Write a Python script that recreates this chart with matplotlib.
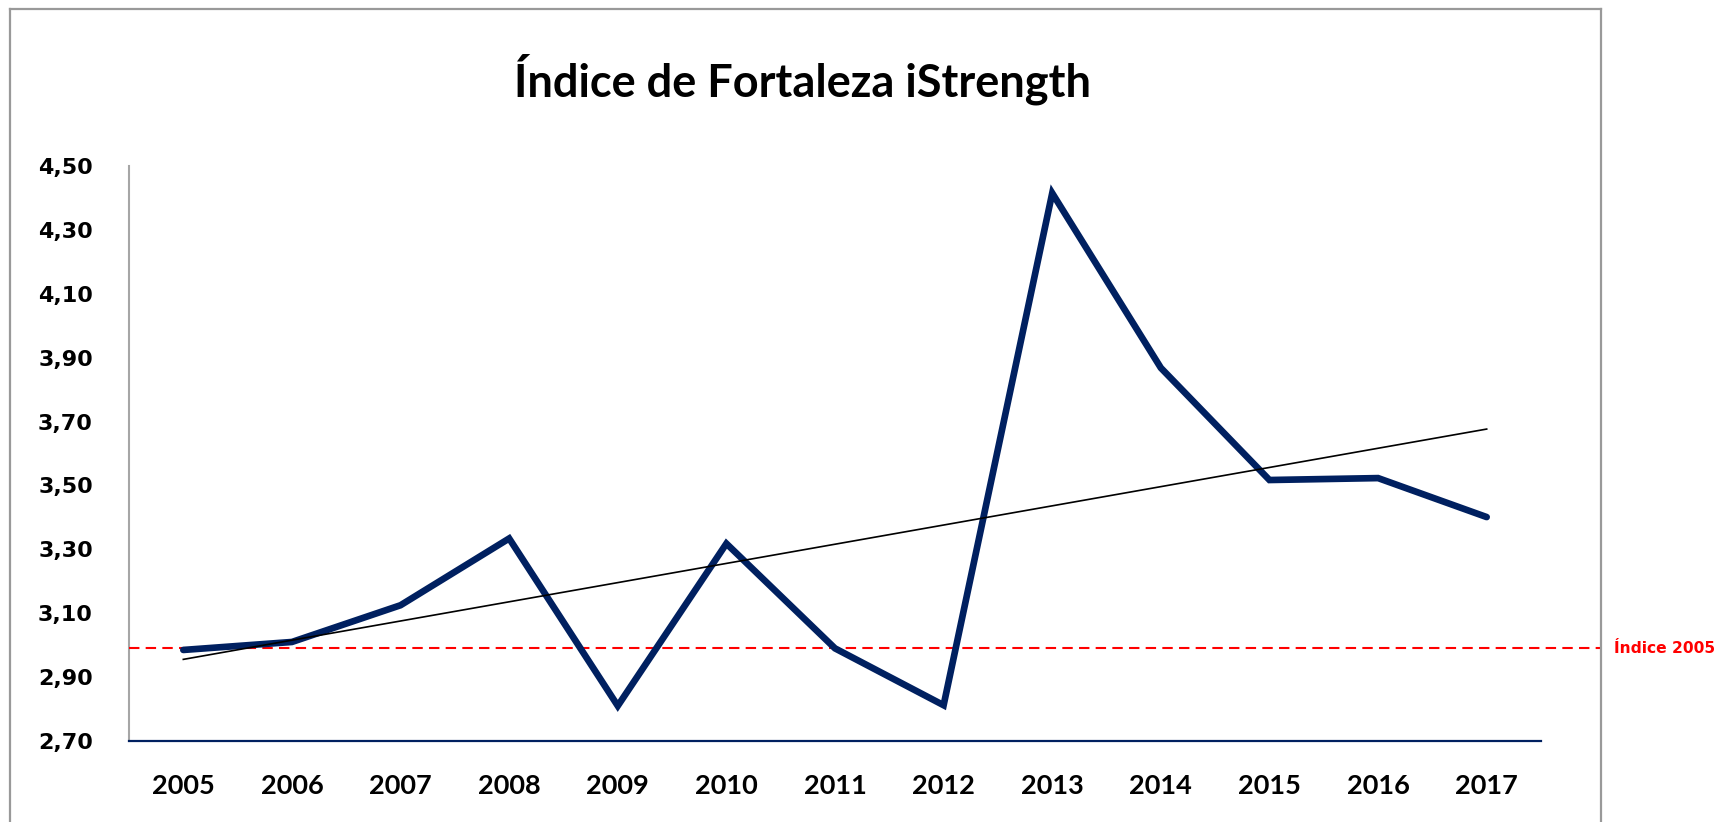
import numpy as np
import matplotlib
matplotlib.use("Agg")
import matplotlib.pyplot as plt
from matplotlib.lines import Line2D
from matplotlib.transforms import blended_transform_factory

years = ["2005", "2006", "2007", "2008", "2009", "2010", "2011",
         "2012", "2013", "2014", "2015", "2016", "2017"]
values = [2.985, 3.01, 3.125, 3.334, 2.81, 3.318, 2.99,
          2.812, 4.415, 3.868, 3.517, 3.523, 3.401]
ref_value = 2.99
ref_label = "Índice 2005"
title = "Índice de Fortaleza iStrength"
yticks = [2.70, 2.90, 3.10, 3.30, 3.50, 3.70, 3.90, 4.10, 4.30, 4.50]

W, H = 1716, 822
fig = plt.figure(figsize=(W / 100, H / 100), dpi=100)
fig.patch.set_facecolor("white")
ax = fig.add_axes([129 / W, 1 - 741 / H, (1541 - 129) / W, (741 - 166) / H])

x = np.arange(len(years))
ax.plot(x, values, color="#002060", lw=4.8, solid_joinstyle="miter",
        solid_capstyle="round", zorder=4)

# linear trend
coef = np.polyfit(x, values, 1)
ax.plot(x[[0, -1]], np.polyval(coef, x[[0, -1]]), color="black", lw=1.2, zorder=5)

# reference line extending to the chart frame
tr = blended_transform_factory(fig.transFigure, ax.transData)
ax.plot([129 / W, 1600 / W], [ref_value, ref_value], transform=tr, color="#FF0000",
        lw=1.5, linestyle=(0, (5, 3)), clip_on=False, zorder=3)
ax.text(1614 / W, ref_value, ref_label, transform=tr, color="#FF0000",
        fontsize=11.2, fontweight="bold", family="DejaVu Sans", va="center", ha="left")

ax.set_xlim(-0.5, len(years) - 0.5)
ax.set_ylim(2.70, 4.50)
ax.set_yticks(yticks)
ax.set_yticklabels([f"{v:.2f}".replace(".", ",") for v in yticks],
                   fontsize=16, fontweight="bold", family="DejaVu Sans")
ax.set_xticks(x)
ax.set_xticklabels(years, fontsize=19.5, fontweight="bold", family="Lato")
ax.tick_params(axis="both", length=0)
ax.tick_params(axis="y", pad=26)
ax.tick_params(axis="x", pad=24)
for s in ["top", "right"]:
    ax.spines[s].set_visible(False)
ax.spines["left"].set_color("#A6A6A6")
ax.spines["left"].set_linewidth(1.5)
ax.spines["bottom"].set_color("#002060")
ax.spines["bottom"].set_linewidth(1.6)

fig.text(802 / W, 1 - 79 / H, title, ha="center", va="center",
         fontsize=32.5, fontweight="bold", family="Lato")

# outer chart frame (left, top, right)
frame_color = "#999999"
fig.add_artist(Line2D([10 / W, 10 / W], [0, 1 - 9 / H], transform=fig.transFigure,
                      color=frame_color, lw=1.6))
fig.add_artist(Line2D([10 / W, 1601 / W], [1 - 9 / H, 1 - 9 / H], transform=fig.transFigure,
                      color=frame_color, lw=1.6))
fig.add_artist(Line2D([1601 / W, 1601 / W], [0, 1 - 9 / H], transform=fig.transFigure,
                      color=frame_color, lw=1.6))

fig.savefig("out.png", dpi=100, facecolor="white")
